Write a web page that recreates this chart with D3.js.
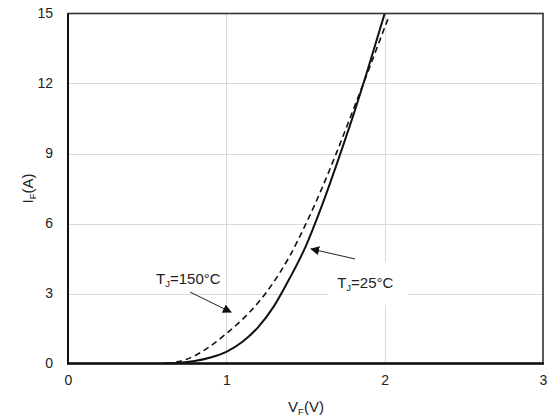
<!DOCTYPE html>
<html>
<head>
<meta charset="utf-8">
<script src="https://cdn.jsdelivr.net/npm/d3@7"></script>
<style>
  html, body { margin: 0; padding: 0; background: #fff; }
  svg text { font-family: "Liberation Sans", Arial, sans-serif; fill: #222; }
</style>
</head>
<body>
<svg id="chart" width="557" height="418"></svg>
<script>
// Forward characteristics, I_F vs V_F
const vf25  = [0.60, 0.70, 0.80, 0.90, 1.00, 1.10, 1.20, 1.30, 1.40, 1.50, 1.60, 1.70, 1.80, 1.90, 2.00];
const if25  = [0.00, 0.03, 0.11, 0.26, 0.50, 0.92, 1.55, 2.45, 3.65, 5.00, 6.70, 8.60, 10.60, 12.75, 15.0];
const vf150 = [0.62, 0.70, 0.80, 0.90, 1.00, 1.10, 1.20, 1.30, 1.40, 1.50, 1.60, 1.70, 1.80, 1.90, 2.00, 2.02];
const if150 = [0.00, 0.08, 0.33, 0.75, 1.28, 1.88, 2.60, 3.50, 4.60, 5.95, 7.45, 9.10, 10.85, 12.60, 14.40, 14.75];

const xTicks = [0, 1, 2, 3];
const yTicks = [0, 3, 6, 9, 12, 15];

// Annotations (data units)
const labels = [
  { text: "150°C", sub: "J", x: 0.556, y: 3.4, box: false },
  { text: "25°C",  sub: "J", x: 1.70,  y: 3.24, box: true }
];
const arrows = [
  { from: [0.771, 3.06], to: [1.03, 2.20] },
  { from: [1.813, 4.48], to: [1.535, 4.91] }
];

const svg = d3.select("#chart");
const m = { left: 68, right: 14, top: 13.5, bottom: 54.5 };
const W = 557, H = 418;
const x = d3.scaleLinear().domain([0, 3]).range([m.left, W - m.right]);
const y = d3.scaleLinear().domain([0, 15]).range([H - m.bottom, m.top]);

// grid
const grid = svg.append("g");
grid.selectAll("line.gx").data(xTicks.slice(1, -1)).join("line")
  .attr("x1", d => Math.round(x(d)) + 0.5).attr("x2", d => Math.round(x(d)) + 0.5)
  .attr("y1", y(15)).attr("y2", y(0))
  .attr("stroke", "#d9d9d9").attr("stroke-width", 1);
grid.selectAll("line.gy").data(yTicks.slice(1, -1)).join("line")
  .attr("y1", d => Math.round(y(d)) + 0.5).attr("y2", d => Math.round(y(d)) + 0.5)
  .attr("x1", x(0)).attr("x2", x(3))
  .attr("stroke", "#d9d9d9").attr("stroke-width", 1);

// axes tick labels
const xAxis = d3.axisBottom(x).tickValues(xTicks).tickSize(0).tickPadding(12).tickFormat(d3.format("d"));
const yAxis = d3.axisLeft(y).tickValues(yTicks).tickSize(0).tickPadding(15).tickFormat(d3.format("d"));
const gx = svg.append("g").attr("transform", `translate(0,${y(0)})`).call(xAxis);
const gy = svg.append("g").attr("transform", `translate(${x(0)},0)`).call(yAxis);
[gx, gy].forEach(g => {
  g.select(".domain").remove();
  g.selectAll("text").attr("font-size", 14).attr("fill", "#222")
    .attr("font-family", "'Liberation Sans', Arial, sans-serif");
});

// curves
const line = d3.line().x(d => x(d[0])).y(d => y(d[1])).curve(d3.curveMonotoneX);
const pts25 = vf25.map((v, i) => [v, if25[i]]);
const pts150 = vf150.map((v, i) => [v, if150[i]]);

const defs = svg.append("defs");
defs.append("marker").attr("id", "ah").attr("viewBox", "0 0 10 10")
  .attr("refX", 9).attr("refY", 5).attr("markerWidth", 9).attr("markerHeight", 9)
  .attr("markerUnits", "userSpaceOnUse").attr("orient", "auto")
  .append("path").attr("d", "M0,0 L10,5 L0,10 z").attr("fill", "#111");

svg.append("clipPath").attr("id", "plotclip").append("rect")
  .attr("x", x(0)).attr("y", y(15)).attr("width", x(3) - x(0)).attr("height", y(0) - y(15));

labels.forEach(l => {
  if (l.box) {
    svg.append("rect")
      .attr("x", x(l.x) - 9).attr("y", y(l.y) - 26)
      .attr("width", 80).attr("height", 43).attr("fill", "#fff");
  }
});

svg.append("path").datum(pts150).attr("d", line)
  .attr("fill", "none").attr("stroke", "#111").attr("stroke-width", 1.6)
  .attr("stroke-dasharray", "6,4");
svg.append("path").datum(pts25).attr("d", line).attr("clip-path", "url(#plotclip)")
  .attr("fill", "none").attr("stroke", "#111").attr("stroke-width", 2);

arrows.forEach(a => {
  svg.append("line")
    .attr("x1", x(a.from[0])).attr("y1", y(a.from[1]))
    .attr("x2", x(a.to[0])).attr("y2", y(a.to[1]))
    .attr("stroke", "#222").attr("stroke-width", 1)
    .attr("marker-end", "url(#ah)");
});

labels.forEach(l => {
  const t = svg.append("text").attr("x", x(l.x)).attr("y", y(l.y)).attr("font-size", 15);
  t.append("tspan").text("T");
  t.append("tspan").attr("font-size", 9.5).attr("dy", 3).text(l.sub);
  t.append("tspan").attr("dy", -3).text("=" + l.text);
});

// frame
svg.append("rect").attr("x", x(0)).attr("y", y(15))
  .attr("width", x(3) - x(0)).attr("height", y(0) - y(15))
  .attr("fill", "none").attr("stroke", "#333").attr("stroke-width", 1.6);
svg.append("line").attr("x1", x(0) - 1).attr("x2", x(3) + 1).attr("y1", y(0)).attr("y2", y(0))
  .attr("stroke", "#111").attr("stroke-width", 2.4);
svg.append("line").attr("x1", x(0)).attr("x2", x(0)).attr("y1", y(15)).attr("y2", y(0))
  .attr("stroke", "#111").attr("stroke-width", 2);

// axis titles
const xt = svg.append("text").attr("x", (x(0) + x(3)) / 2 + 0.5).attr("y", 412)
  .attr("text-anchor", "middle").attr("font-size", 15);
xt.append("tspan").text("V");
xt.append("tspan").attr("font-size", 9.5).attr("dy", 3).text("F");
xt.append("tspan").attr("dy", -3).text("(V)");

const yt = svg.append("text")
  .attr("transform", `translate(33,${(y(0) + y(15)) / 2}) rotate(-90)`)
  .attr("text-anchor", "middle").attr("font-size", 15);
yt.append("tspan").text("I");
yt.append("tspan").attr("font-size", 9.5).attr("dy", 3).text("F");
yt.append("tspan").attr("dy", -3).text("(A)");
</script>
</body>
</html>
